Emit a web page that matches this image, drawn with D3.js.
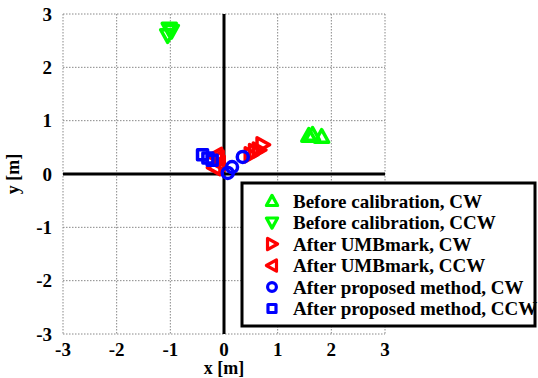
<!DOCTYPE html>
<html>
<head>
<meta charset="utf-8">
<script src="https://cdn.jsdelivr.net/npm/d3@7"></script>
<style>
  body { margin: 0; background: #fff; }
</style>
</head>
<body>
<div id="chart"></div>
<script>
// data (metres)
var beforeCW = [[1.58, 0.72], [1.65, 0.74], [1.82, 0.70]];
var beforeCCW = [[-1.05, 2.60], [-0.98, 2.68], [-1.02, 2.72]];
var umbCW = [[0.50, 0.36], [0.58, 0.42], [0.65, 0.45], [0.72, 0.55]];
var umbCCW = [[-0.15, 0.35], [-0.10, 0.20], [-0.18, 0.12], [-0.12, 0.30]];
var propCW = [[0.35, 0.32], [0.15, 0.13], [0.07, 0.02]];
var propCCW = [[-0.40, 0.36], [-0.30, 0.30], [-0.22, 0.26]];
var ticks = [-3, -2, -1, 0, 1, 2, 3];

var series = [
  {name: "Before calibration, CW", data: beforeCW, color: "#00ff00", shape: "up"},
  {name: "Before calibration, CCW", data: beforeCCW, color: "#00ff00", shape: "down"},
  {name: "After UMBmark, CW", data: umbCW, color: "#ff0000", shape: "right"},
  {name: "After UMBmark, CCW", data: umbCCW, color: "#ff0000", shape: "left"},
  {name: "After proposed method, CW", data: propCW, color: "#0000ff", shape: "circle"},
  {name: "After proposed method, CCW", data: propCCW, color: "#0000ff", shape: "square"}
];

var margin = {top: 14, right: 153, bottom: 44, left: 63},
    width = 538 - margin.left - margin.right,
    height = 378 - margin.top - margin.bottom;

var x = d3.scaleLinear().domain([-3, 3]).range([0, width]);
var y = d3.scaleLinear().domain([-3, 3]).range([height, 0]);

var svg = d3.select("#chart").append("svg")
    .attr("width", 538)
    .attr("height", 378)
    .attr("font-family", "'Liberation Serif', 'Times New Roman', 'DejaVu Serif', serif")
    .attr("font-weight", "bold")
  .append("g")
    .attr("transform", "translate(" + margin.left + "," + margin.top + ")");

// dotted grid
svg.selectAll(".vgrid").data(ticks).enter().append("line")
  .attr("x1", function(d) { return x(d); }).attr("x2", function(d) { return x(d); })
  .attr("y1", 0).attr("y2", height)
  .attr("stroke", "#888").attr("stroke-width", 1).attr("stroke-dasharray", "1.5,1.5");
svg.selectAll(".hgrid").data(ticks).enter().append("line")
  .attr("y1", function(d) { return y(d); }).attr("y2", function(d) { return y(d); })
  .attr("x1", 0).attr("x2", width)
  .attr("stroke", "#888").attr("stroke-width", 1).attr("stroke-dasharray", "1.5,1.5");

// thick zero lines
svg.append("line").attr("x1", x(0)).attr("x2", x(0)).attr("y1", 0).attr("y2", height)
  .attr("stroke", "#000").attr("stroke-width", 3);
svg.append("line").attr("y1", y(0)).attr("y2", y(0)).attr("x1", 0).attr("x2", width)
  .attr("stroke", "#000").attr("stroke-width", 3);

// tick labels
svg.selectAll(".xt").data(ticks).enter().append("text")
  .attr("x", function(d) { return x(d); }).attr("y", height + 22)
  .attr("text-anchor", "middle").attr("font-size", 19)
  .text(function(d) { return d; });
svg.selectAll(".yt").data(ticks).enter().append("text")
  .attr("x", -11).attr("y", function(d) { return y(d) + 6.5; })
  .attr("text-anchor", "end").attr("font-size", 19)
  .text(function(d) { return d; });

svg.append("text").attr("x", x(0)).attr("y", height + 40)
  .attr("text-anchor", "middle").attr("font-size", 18).text("x [m]");
svg.append("text").attr("transform", "translate(-44," + y(0) + ") rotate(-90)")
  .attr("text-anchor", "middle").attr("font-size", 18).text("y [m]");

// marker paths
function markerPath(shape) {
  var s = 7;
  if (shape == "up") return "M0," + (-s) + "L" + s + "," + (s * 0.8) + "L" + (-s) + "," + (s * 0.8) + "Z";
  if (shape == "down") return "M0," + s + "L" + s + "," + (-s * 0.8) + "L" + (-s) + "," + (-s * 0.8) + "Z";
  if (shape == "right") return "M" + s + ",0L" + (-s * 0.8) + "," + s + "L" + (-s * 0.8) + "," + (-s) + "Z";
  if (shape == "left") return "M" + (-s) + ",0L" + (s * 0.8) + "," + s + "L" + (s * 0.8) + "," + (-s) + "Z";
  if (shape == "circle") return "M5.5,0A5.5,5.5 0 1,1 -5.5,0A5.5,5.5 0 1,1 5.5,0Z";
  return "M-5,-5L5,-5L5,5L-5,5Z";
}

series.forEach(function(s) {
  svg.selectAll(null).data(s.data).enter().append("path")
    .attr("d", markerPath(s.shape))
    .attr("transform", function(d) { return "translate(" + x(d[0]) + "," + y(d[1]) + ")"; })
    .attr("fill", "none")
    .attr("stroke", s.color)
    .attr("stroke-width", 3.5)
    .attr("stroke-linejoin", "round");
});

// legend
var legend = svg.append("g").attr("transform", "translate(" + (242 - margin.left) + "," + (183 - margin.top) + ")");
legend.append("rect").attr("x", 0).attr("y", 0).attr("width", 293).attr("height", 143)
  .attr("fill", "#fff").attr("stroke", "#000").attr("stroke-width", 3);
var rows = legend.selectAll(".row").data(series).enter().append("g")
  .attr("transform", function(d, i) { return "translate(0," + (18 + i * 21.5) + ")"; });
rows.append("path")
  .attr("d", function(d) { return markerPath(d.shape); })
  .attr("transform", "translate(30,0) scale(0.8)")
  .attr("fill", "none")
  .attr("stroke", function(d) { return d.color; })
  .attr("stroke-width", 4)
  .attr("stroke-linejoin", "round");
rows.append("text").attr("x", 51).attr("y", 6.5).attr("font-size", 19)
  .text(function(d) { return d.name; });
</script>
</body>
</html>
